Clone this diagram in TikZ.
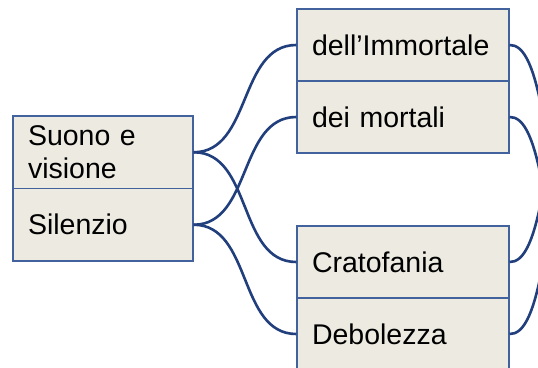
\documentclass[tikz,border=0pt]{standalone}
\usepackage{fontspec}
\setmainfont{Liberation Sans}
\definecolor{cellfill}{RGB}{237,235,225}
\definecolor{cellline}{RGB}{66,98,158}
\definecolor{conn}{RGB}{33,62,125}
\tikzset{
  cell/.style={rectangle, draw=cellline, fill=cellfill, line width=1.3pt,
    align=left, inner xsep=15pt, inner ysep=3pt, minimum height=72.5pt,
    font=\fontsize{28.5}{33.3}\selectfont},
  leftcell/.style={cell, text width=150pt},
  rightcell/.style={cell, text width=182pt, minimum height=72pt},
  link/.style={draw=conn, line width=2.6pt}
}
\begin{document}
\begin{tikzpicture}[x=1pt,y=-1pt]
\useasboundingbox (0,0) rectangle (538,367);
\clip (0,0) rectangle (538,367);
\fill[white] (0,0) rectangle (538,367);
\node[leftcell] (suono) at (103,152.25) {Suono e\\visione};
\node[leftcell] (silenzio) at (103,224.75) {Silenzio};
\node[rightcell] (immortale) at (403,45) {dell’Immortale};
\node[rightcell] (mortali) at (403,117) {dei mortali};
\node[rightcell] (crato) at (403,262) {Cratofania};
\node[rightcell] (debol) at (403,334) {Debolezza};
\coordinate (rI) at ([shift={(38,100)}]immortale.east);
\coordinate (rM) at ([shift={(38,100)}]mortali.east);
\coordinate (rC) at ([shift={(38,-100)}]crato.east);
\coordinate (rD) at ([shift={(38,-100)}]debol.east);
\path[link] (suono.east) to[out=0,in=180] (immortale.west);
\path[link] (suono.east) to[out=0,in=180] (crato.west);
\path[link] (silenzio.east) to[out=0,in=180] (mortali.west);
\path[link] (silenzio.east) to[out=0,in=180] (debol.west);
\path[link] (immortale.east) .. controls +(13,0) and +(-12,-85) .. (rI);
\path[link] (mortali.east) .. controls +(13,0) and +(-12,-85) .. (rM);
\path[link] (crato.east) .. controls +(13,0) and +(-12,85) .. (rC);
\path[link] (debol.east) .. controls +(13,0) and +(-12,85) .. (rD);
\end{tikzpicture}
\end{document}
